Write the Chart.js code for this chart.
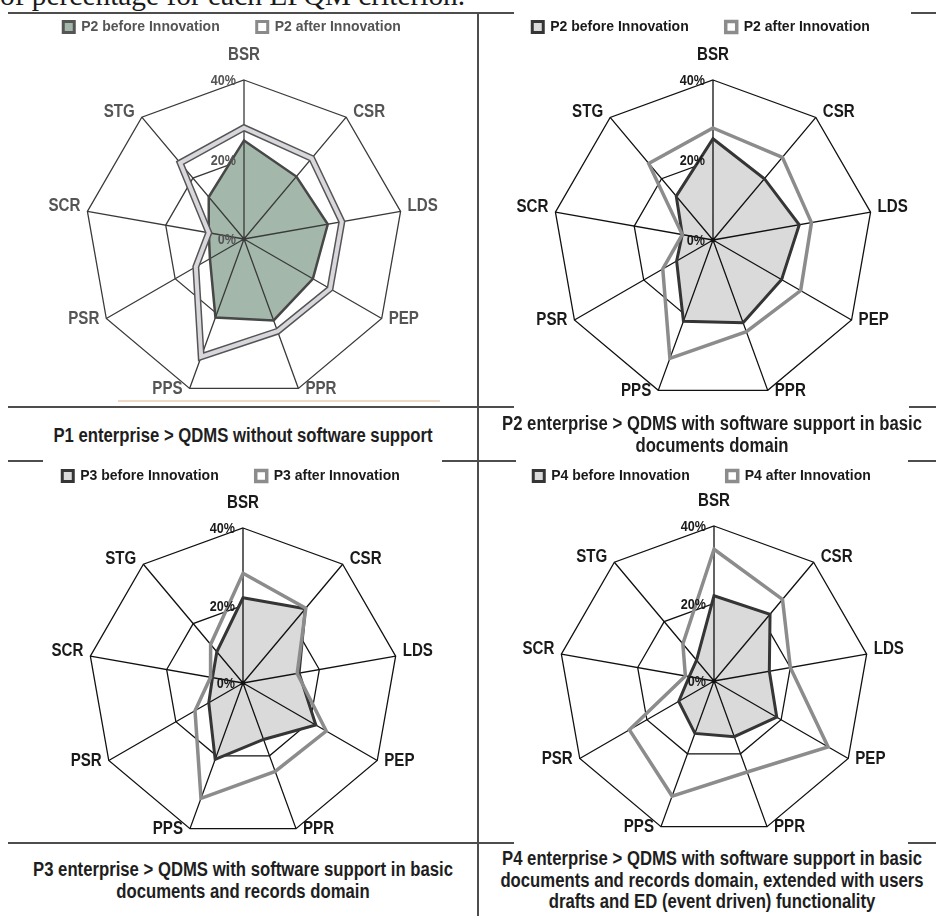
<!DOCTYPE html>
<html>
<head>
<meta charset="utf-8">
<script src="https://cdn.jsdelivr.net/npm/chart.js@4.4.1/dist/chart.umd.min.js"></script>
<style>
 html, body { margin:0; padding:0; background:#fff; }
 #page { position:relative; width:936px; height:916px; overflow:hidden; background:#fff; }
 .hl { position:absolute; height:2px; background:#4d4d4d; }
 .vl { position:absolute; width:2px; background:#4d4d4d; }
 canvas { position:absolute; }
 .cap { position:absolute; width:560px; text-align:center; font-family:'Liberation Sans Narrow','Arial Narrow','Liberation Sans',Arial,sans-serif; font-weight:bold; font-size:20px; line-height:21.5px; color:#1e1e1e; transform:scaleX(0.835); transform-origin:50% 50%; white-space:nowrap; }
 .top { position:absolute; left:0; top:-19px; white-space:nowrap; font-family:'Liberation Serif','Times New Roman',serif; font-size:29.4px; line-height:28px; color:#1a1a1a; }
</style>
</head>
<body>
<div id="page">
  <div class="top">of percentage for each EFQM criterion.</div>

  <div class="hl" style="left:8px;top:12px;width:506px"></div>
  <div class="hl" style="left:911px;top:12px;width:25px"></div>
  <div class="hl" style="left:8px;top:406px;width:506px"></div>
  <div class="hl" style="left:909px;top:406px;width:27px"></div>
  <div class="hl" style="left:8px;top:460px;width:35px"></div>
  <div class="hl" style="left:442px;top:460px;width:74px"></div>
  <div class="hl" style="left:908px;top:460px;width:28px"></div>
  <div class="hl" style="left:8px;top:842px;width:506px"></div>
  <div class="hl" style="left:908px;top:842px;width:28px"></div>
  <div class="vl" style="left:477px;top:12px;height:904px"></div>
  <div style="position:absolute;left:118px;top:400px;width:322px;height:2px;background:rgba(225,185,145,0.55)"></div>

  <canvas id="p1" style="filter:blur(0.5px)"></canvas>
  <canvas id="p2"></canvas>
  <canvas id="p3"></canvas>
  <canvas id="p4"></canvas>

  <div class="cap" style="left:-37px;top:425px">P1 enterprise &gt; QDMS without software support</div>
  <div class="cap" style="left:432px;top:413px">P2 enterprise &gt; QDMS with software support in basic<br>documents domain</div>
  <div class="cap" style="left:-37px;top:859px">P3 enterprise &gt; QDMS with software support in basic<br>documents and records domain</div>
  <div class="cap" style="left:432px;top:848px">P4 enterprise &gt; QDMS with software support in basic<br>documents and records domain, extended with users<br>drafts and ED (event driven) functionality</div>
</div>

<script>
// ---------- data ----------
const categories = ['BSR', 'CSR', 'LDS', 'PEP', 'PPR', 'PPS', 'PSR', 'SCR', 'STG'];
const tickValues = [0, 20, 40];
const tickLabels = ['0%', '20%', '40%'];

const p1Before = [24.8, 20.5, 21.4, 20.0, 21.8, 21.0, 9.9, 9.0, 13.8];
const p1After  = [28.0, 26.5, 25.0, 25.0, 24.7, 31.5, 14.0, 9.0, 25.0];
const p2Before = [25.3, 20.0, 21.9, 19.8, 22.0, 21.6, 10.5, 7.8, 14.3];
const p2After  = [28.0, 27.0, 25.0, 25.3, 24.4, 31.5, 14.5, 7.8, 25.0];
const p3Before = [22.0, 25.0, 14.7, 21.7, 15.5, 21.0, 10.2, 8.0, 10.5];
const p3After  = [28.3, 25.2, 14.2, 24.8, 24.3, 31.7, 14.3, 8.5, 13.0];
const p4Before = [22.0, 22.5, 14.5, 18.7, 15.3, 14.4, 10.5, 6.5, 7.0];
const p4After  = [34.0, 27.5, 20.0, 34.0, 25.0, 31.6, 25.2, 7.5, 12.5];

// ---------- styling / plugins ----------
const FONT = "'Liberation Sans Narrow', 'Arial Narrow', 'Liberation Sans', Arial, sans-serif";
const LEG_FS = 14, LEG_BOX = 11, LEG_PAD = 37;

function condText(ctx, text, x, y, sx) {
  ctx.save();
  ctx.translate(x, y);
  ctx.scale(sx, 1);
  ctx.fillText(text, 0, 0);
  ctx.restore();
}

const radarDecor = {
  id: 'radarDecor',
  beforeDatasetsDraw(chart, args, o) {
    const s = chart.scales.r, ctx = chart.ctx;
    ctx.save();
    ctx.strokeStyle = o.spokeColor;
    ctx.lineWidth = o.spokeWidth;
    ctx.beginPath();
    for (let i = 0; i < chart.data.labels.length; i++) {
      const p = s.getPointPosition(i, s.drawingArea);
      ctx.moveTo(s.xCenter, s.yCenter);
      ctx.lineTo(p.x, p.y);
    }
    ctx.stroke();
    ctx.restore();
  },
  afterDatasetsDraw(chart, args, o) {
    const s = chart.scales.r, ctx = chart.ctx;
    ctx.save();
    ctx.fillStyle = o.spokeColor;
    ctx.beginPath();
    ctx.arc(s.xCenter, s.yCenter, 2.3, 0, Math.PI * 2);
    ctx.fill();
    // value tick labels
    ctx.font = o.tickFont;
    ctx.fillStyle = o.tickColor;
    ctx.textAlign = 'right';
    ctx.textBaseline = 'middle';
    s.ticks.forEach(t => {
      const d = s.getDistanceFromCenterForValue(t.value);
      condText(ctx, t.label, s.xCenter - 8, s.yCenter - d + 1, o.squeeze);
    });
    // category labels
    ctx.font = o.labelFont;
    ctx.fillStyle = o.labelColor;
    chart.data.labels.forEach((lab, i) => {
      const p = s.getPointPosition(i, s.drawingArea);
      const a = s.getIndexAngle(i);
      const sn = Math.sin(a), cs = Math.cos(a);
      let x = p.x, y = p.y;
      if (Math.abs(sn) < 1e-3) {
        ctx.textAlign = 'center';
        y -= 25;
      } else {
        ctx.textAlign = sn > 0 ? 'left' : 'right';
        x += sn > 0 ? 7 : -7;
        y += cs > 0 ? -5 : 0.5;
      }
      condText(ctx, lab, x, y, o.squeeze);
    });
    ctx.restore();
  }
};

const legendPlace = {
  id: 'legendPlace',
  afterLayout(chart, args, o) {
    const lg = chart.legend;
    if (!lg) return;
    const itemH = Math.max(LEG_FS, LEG_BOX);
    const dy = o.y - (lg.top + LEG_PAD + itemH / 2);
    lg.top += dy; lg.bottom += dy;
    lg.left += o.dx; lg.right += o.dx;
  }
};

function legendItems(chart) {
  const items = Chart.defaults.plugins.legend.labels.generateLabels(chart);
  return items
    .filter(it => !chart.data.datasets[it.datasetIndex].legendSkip)
    .map(it => Object.assign(it, chart.data.datasets[it.datasetIndex].legendBox || {}));
}

function buildChart(spec) {
  const cv = document.getElementById(spec.id);
  const [L, T, W, H] = spec.rect;
  cv.width = W; cv.height = H;
  cv.style.left = L + 'px'; cv.style.top = T + 'px';
  const legendH = Math.max(LEG_FS, LEG_BOX) + LEG_PAD + 10;
  const cx = spec.cx - L, cy = spec.cy - T, R = spec.R;
  const half = Math.min(cx, W - cx);
  const padding = { left: cx - half, right: W - cx - half, top: cy - R - legendH, bottom: H - cy - R };
  return new Chart(cv, {
    type: 'radar',
    data: { labels: categories, datasets: spec.datasets },
    options: {
      responsive: false,
      animation: false,
      events: [],
      layout: { padding },
      elements: { point: { radius: 0 }, line: { tension: 0, borderJoinStyle: 'miter' } },
      scales: {
        r: {
          min: tickValues[0],
          max: tickValues[tickValues.length - 1],
          ticks: { stepSize: tickValues[1] - tickValues[0], display: false, callback: (v, i) => tickLabels[i] },
          grid: { circular: false, color: spec.gridColor, lineWidth: 1.3 },
          angleLines: { display: false },
          pointLabels: { display: false }
        }
      },
      plugins: {
        filler: { drawTime: 'beforeDatasetsDraw' },
        tooltip: { enabled: false },
        legend: {
          display: true, position: 'top', align: 'center',
          labels: {
            font: { family: FONT, size: LEG_FS, weight: 'bold' },
            color: spec.textColor, boxWidth: LEG_BOX, boxHeight: LEG_BOX, padding: LEG_PAD,
            generateLabels: legendItems,
            sort: (a, b) => a.datasetIndex - b.datasetIndex
          }
        },
        legendPlace: { y: spec.legendY - T, dx: -12 },
        radarDecor: {
          spokeColor: spec.gridColor, spokeWidth: 1.3, squeeze: 0.84,
          tickFont: 'bold 15px ' + FONT, tickColor: spec.textColor,
          labelFont: 'bold 18px ' + FONT, labelColor: spec.textColor
        }
      }
    },
    plugins: [radarDecor, legendPlace]
  });
}

function stdSets(name, before, after) {
  return [
    { label: name + ' before Innovation', data: before, fill: true, backgroundColor: '#dadada',
      borderColor: '#353535', borderWidth: 3, order: 1 },
    { label: name + ' after Innovation', data: after, fill: false, backgroundColor: '#ffffff',
      borderColor: '#8c8c8c', borderWidth: 3.5, order: 0 }
  ];
}

buildChart({
  id: 'p1', rect: [0, 0, 478, 405], cx: 244, cy: 239, R: 159, legendY: 27,
  gridColor: '#3a3a3a', textColor: '#555',
  datasets: [
    { label: 'P2 before Innovation', data: p1Before, fill: true, backgroundColor: '#a3b8ab',
      borderColor: '#474747', borderWidth: 2.5, order: 2,
      legendBox: { lineWidth: 3, strokeStyle: '#555', fillStyle: '#a3b8ab' } },
    { label: 'P2 after Innovation', data: p1After, fill: false, backgroundColor: '#ffffff',
      borderColor: '#555555', borderWidth: 7, order: 1,
      legendBox: { lineWidth: 3, strokeStyle: '#8a8a8a', fillStyle: '#ffffff' } },
    { label: 'P2 after Innovation', data: p1After, fill: false,
      borderColor: '#d9d6dc', borderWidth: 4, order: 0, legendSkip: true }
  ]
});
buildChart({
  id: 'p2', rect: [478, 0, 458, 405], cx: 713, cy: 240, R: 160, legendY: 27,
  gridColor: '#111', textColor: '#1a1a1a', datasets: stdSets('P2', p2Before, p2After)
});
buildChart({
  id: 'p3', rect: [0, 462, 478, 380], cx: 243, cy: 683, R: 155, legendY: 476,
  gridColor: '#111', textColor: '#1a1a1a', datasets: stdSets('P3', p3Before, p3After)
});
buildChart({
  id: 'p4', rect: [478, 462, 458, 380], cx: 714, cy: 681, R: 155, legendY: 476,
  gridColor: '#111', textColor: '#1a1a1a', datasets: stdSets('P4', p4Before, p4After)
});
</script>
</body>
</html>
